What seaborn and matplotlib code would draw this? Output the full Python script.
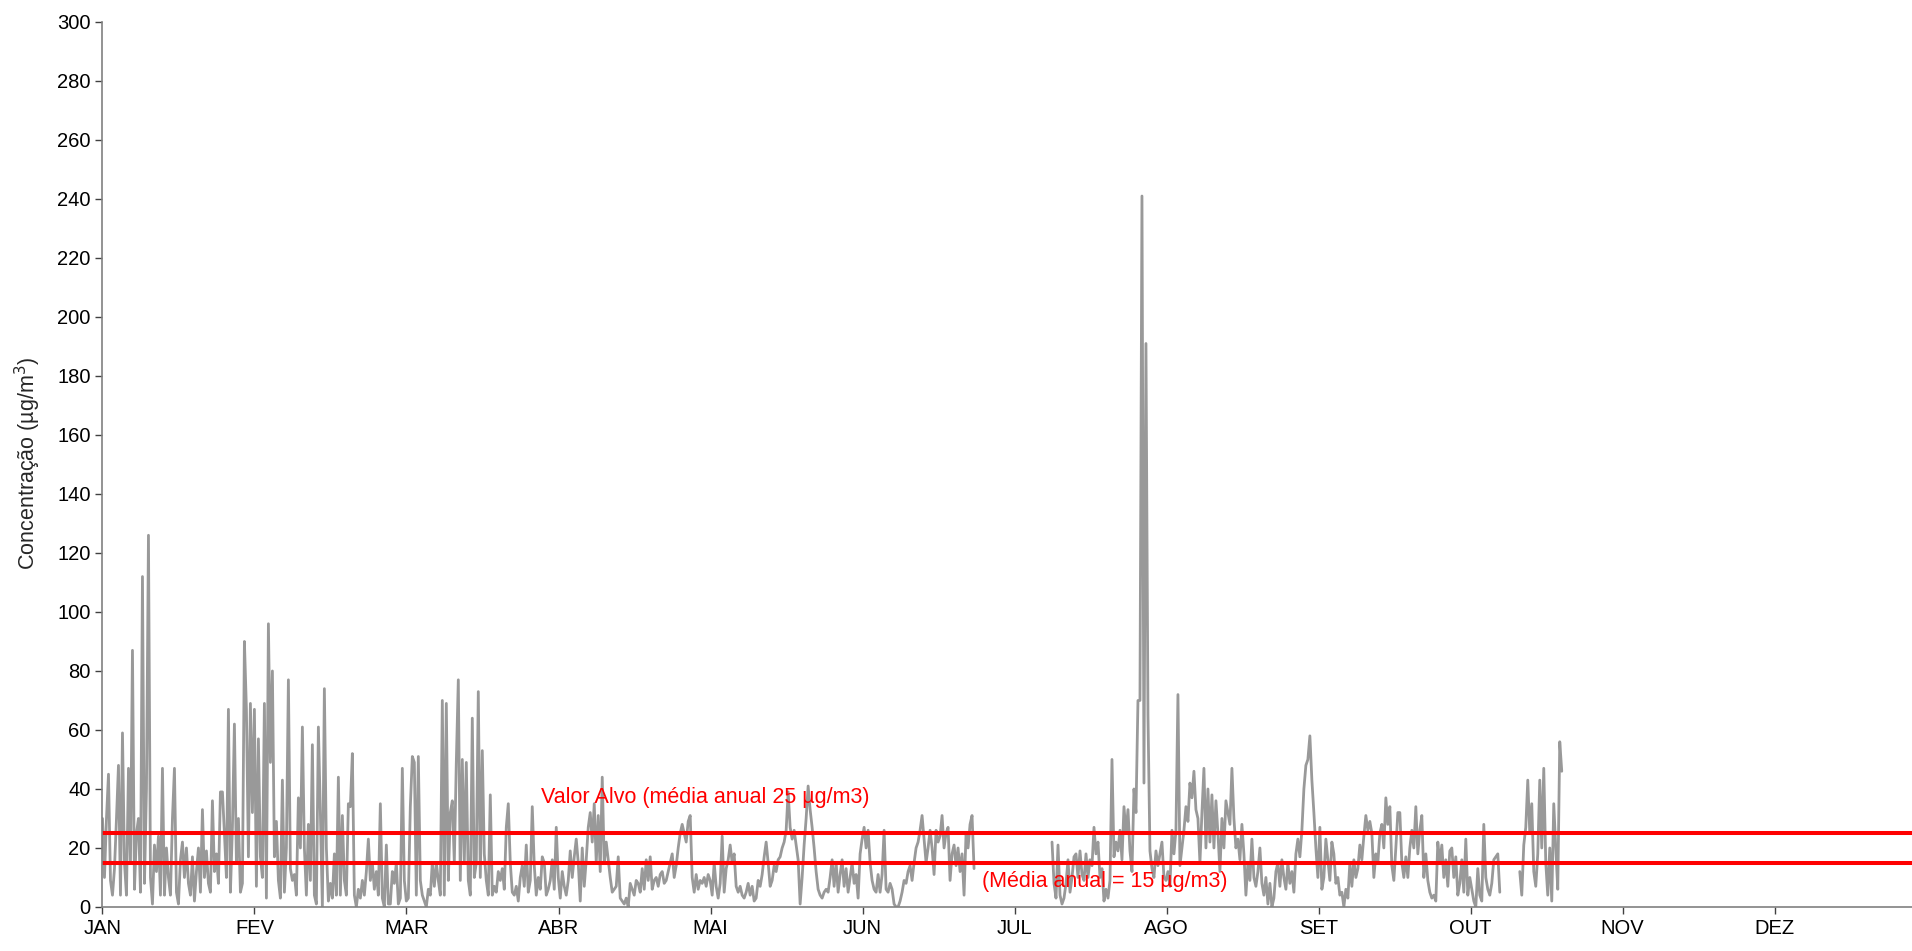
import numpy as np
import pandas as pd
import matplotlib
matplotlib.use("Agg")
import matplotlib.pyplot as plt
import seaborn as sns

nan = np.nan

MONTHS = ["JAN", "FEV", "MAR", "ABR", "MAI", "JUN", "JUL", "AGO", "SET", "OUT", "NOV", "DEZ"]
HOURS_PER_MONTH = 730
STEP_H = 9.6          # spacing of the readings, hours
TARGET = 25           # Valor Alvo (média anual)
ANNUAL_MEAN = 15      # média anual

# concentration readings (µg/m3), consecutive periods of the year
p01 = [nan, 30, 10, 30, 45, 9, 4, 13, 30, 48, 4, 59, 15, 4, 47, 15, 87, 6, 25, 30, 5, 112, 8, 40, 126,
       10, 1, 21, 12, 24, 4, 47, 4, 20, 10, 4, 30, 47, 5, 1, 16, 22, 10, 20, 8, 4, 17, 2, 12, 20, 5, 33,
       10, 19, 8, 5, 36, 12, 18, 8, 39]
p02 = [39, 25, 10, 67, 5, 27, 62, 15, 30, 5, 8, 90, 67, 17, 69, 32, 67, 7, 57, 17, 10, 69, 3, 96, 49,
       80, 17, 29, 9, 3, 43, 5, 20, 77, 13, 9, 11, 4, 37, 20, 61, 20, 4, 28, 9, 55, 4, 1, 61, 32, 0, 74,
       20, 2, 8, 3, 18, 4, 44, 4, 31]
p03 = [9, 4, 35, 34, 52, 4, 0, 6, 3, 9, 4, 12, 23, 9, 15, 6, 12, 4, 35, 3, 0, 21, 1, 1, 12, 8, 15, 1,
       3, 47, 9, 2, 3, 34, 51, 49, 4, 51, 9, 4, 2, 0, 6, 4, 15, 7, 15, 9, 4, 70, 4, 69, 9, 32, 36, 15,
       49, 77, 9, 50, 15]
p04 = [49, 9, 4, 64, 10, 15, 73, 10, 53, 18, 9, 4, 38, 4, 7, 5, 12, 9, 13, 6, 27, 35, 15, 5, 4, 7, 2,
       10, 14, 7, 21, 5, 9, 34, 14, 4, 10, 6, 17, 15, 4, 6, 9, 16, 6, 27, 10, 3, 12, 7, 4, 9, 19, 10,
       17, 23, 15, 2, 20, 7, 16]
p05 = [27, 32, 22, 35, 15, 31, 12, 44, 15, 22, 16, 10, 5, 6, 7, 17, 3, 2, 1, 3, 0, 8, 6, 4, 9, 8, 5,
       13, 6, 16, 9, 17, 6, 9, 10, 7, 11, 12, 8, 9, 12, 15, 18, 10, 14, 20, 25, 28, 25, 22, 29, 31, 10,
       5, 11, 6, 9, 8, 10, 7, 11]
p06 = [9, 4, 15, 7, 3, 8, 24, 5, 13, 16, 21, 15, 18, 7, 5, 7, 4, 3, 5, 8, 4, 7, 2, 3, 9, 7, 11, 17, 22,
       15, 7, 9, 14, 12, 16, 17, 20, 22, 26, 39, 27, 23, 26, 21, 16, 1, 10, 21, 30, 41, 33, 27, 20, 12,
       6, 4, 3, 5, 6, 5, 10]
p07 = [16, 7, 15, 5, 11, 16, 7, 13, 5, 10, 15, 8, 11, 3, 18, 23, 27, 20, 26, 15, 9, 6, 5, 11, 5, 11,
       26, 6, 5, 8, 6, 1, 0, 0, 2, 5, 9, 8, 12, 14, 9, 15, 20, 22, 26, 31, 23, 15, 20, 26, 20, 11, 26,
       22, 24, 31, 20, 25, 27, 9, 18]
p08 = [21, 14, 20, 12, 18, 4, 25, 20, 28, 31, 13] + [nan] * 38 + [22, 8, 3, 21, 4, 1, 3, 8, 16, 5, 10, 17]
p09 = [18, 10, 19, 11, 9, 18, 10, 16, 14, 27, 18, 22, 10, 13, 2, 6, 3, 9, 50, 17, 22, 19, 26, 16, 34,
       25, 33, 19, 12, 40, 32, 70, 70, 241, 42, 191, 65, 19, 13, 10, 19, 14, 18, 22, 10, 9, 12, 7, 26,
       18, 26, 72, 14, 20, 26, 34, 29, 42, 37, 46, 33]
p10 = [30, 15, 32, 47, 20, 40, 22, 38, 20, 36, 25, 12, 30, 20, 36, 32, 28, 47, 30, 20, 23, 16, 28, 18,
       4, 15, 9, 23, 10, 7, 12, 20, 8, 4, 10, 1, 8, 0, 3, 12, 15, 7, 16, 10, 6, 15, 8, 12, 5, 18, 23, 17,
       26, 40, 48, 50, 58, 43, 32, 20, 10]
p11 = [27, 6, 10, 23, 16, 9, 22, 18, 8, 10, 4, 5, 0, 6, 3, 15, 7, 16, 10, 13, 21, 16, 24, 31, 26, 29,
       25, 10, 18, 15, 25, 28, 20, 37, 28, 34, 14, 9, 20, 32, 32, 15, 10, 17, 10, 20, 26, 20, 34, 18, 26,
       31, 10, 18, 9, 5, 3, 4, 2, 22, 15]
p12 = [21, 10, 16, 7, 19, 20, 10, 17, 4, 8, 16, 5, 23, 4, 10, 6, 2, 0, 13, 4, 2, 28, 10, 6, 4, 8, 16,
       17, 18, 5] + [nan] * 9 + [12, 4, 21, 27, 43, 25, 35, 12, 7, 18, 43, 20, 47, 15, 4, 20, 2, 35, 20,
                                  6, 56, 46]

values = np.array(p01 + p02 + p03 + p04 + p05 + p06 + p07 + p08 + p09 + p10 + p11 + p12, dtype=float)
hours = (np.arange(len(values)) - 1) * STEP_H
df = pd.DataFrame({"hora": hours, "conc": values})
df["seg"] = df["conc"].isna().cumsum()
df = df.dropna()

sns.set_theme(style="white")
plt.rcParams["font.family"] = ["Liberation Sans", "DejaVu Sans"]

fig = plt.figure(figsize=(19.12, 9.51), dpi=100)
ax = fig.add_axes([0.0536, 0.0463, 0.9464, 0.9306])

sns.lineplot(data=df, x="hora", y="conc", units="seg", estimator=None,
             color="#999999", linewidth=2.0, ax=ax, legend=False)
ax.axhline(TARGET, color="#ff0000", linewidth=2.9)
ax.axhline(ANNUAL_MEAN, color="#ff0000", linewidth=2.9)

ax.text(2105, 37, "Valor Alvo (média anual 25 µg/m3)", color="#ff0000", fontsize=15.5, va="center")
ax.text(4225, 8.6, "(Média anual = 15 µg/m3)", color="#ff0000", fontsize=15.5, va="center")

ax.set_xlim(0, 8690)
ax.set_ylim(0, 300)
ax.set_xticks(np.arange(12) * HOURS_PER_MONTH)
ax.set_xticklabels(MONTHS)
ax.set_yticks(np.arange(0, 301, 20))
ax.set_xlabel("")
ax.set_ylabel("")
fig.text(0.0145, 0.513, "Concentração (µg/m$^3$)", rotation=90, va="center", ha="center", fontsize=15.5)

for s in ["top", "right"]:
    ax.spines[s].set_visible(False)
for s in ["left", "bottom"]:
    ax.spines[s].set_color("#808080")
    ax.spines[s].set_linewidth(1.2)
ax.tick_params(axis="both", which="both", direction="out", length=5, width=1,
               color="#404040", labelsize=14.5, left=True, bottom=True, labelcolor="black")

fig.savefig("out.png", dpi=100)
